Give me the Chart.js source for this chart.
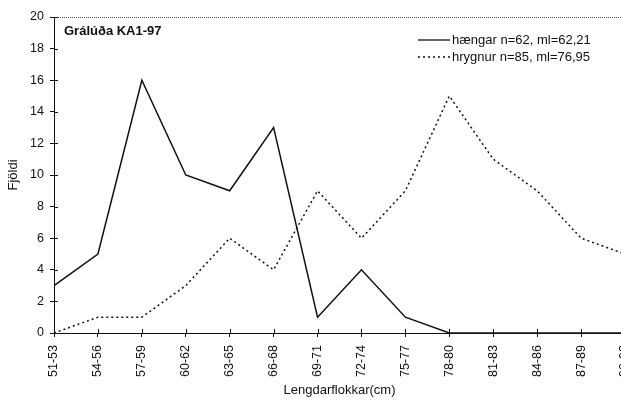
<!DOCTYPE html>
<html>
<head>
<meta charset="utf-8">
<script src="https://cdn.jsdelivr.net/npm/chart.js@4/dist/chart.umd.min.js"></script>
<style>
    html, body { margin: 0; padding: 0; background: #fff; overflow: hidden; }
    .wrap { position: relative; width: 648px; height: 402px; }
</style>
</head>
<body>
<div class="wrap"><canvas id="myChart"></canvas></div>
<script>
const labels = ['51-53', '54-56', '57-59', '60-62', '63-65', '66-68', '69-71',
    '72-74', '75-77', '78-80', '81-83', '84-86', '87-89', '90-92'];
const haengar = [3, 5, 16, 10, 9, 13, 1, 4, 1, 0, 0, 0, 0, 0];
const hrygnur = [0, 1, 1, 3, 6, 4, 9, 6, 9, 15, 11, 9, 6, 5];
const legendText = ['hængar n=62, ml=62,21', 'hrygnur n=85, ml=76,95'];
const chartTitle = 'Grálúða KA1-97';

const font = "'Liberation Sans', Arial, sans-serif";

// title, legend, top border and inner tick marks
const extras = {
    id: 'extras',
    afterDraw(chart) {
        const ctx = chart.ctx;
        const a = chart.chartArea;
        ctx.save();
        ctx.strokeStyle = '#555';
        ctx.lineWidth = 1;
        ctx.setLineDash([1, 1]);
        ctx.beginPath();
        ctx.moveTo(a.left, a.top + 0.5);
        ctx.lineTo(a.right, a.top + 0.5);
        ctx.stroke();
        ctx.setLineDash([]);

        ctx.strokeStyle = '#111';
        ctx.beginPath();
        chart.scales.y.ticks.forEach((t, i) => {
            const y = Math.round(chart.scales.y.getPixelForTick(i)) + 0.5;
            ctx.moveTo(a.left, y);
            ctx.lineTo(a.left + 4, y);
        });
        chart.scales.x.ticks.forEach((t, i) => {
            const x = Math.round(chart.scales.x.getPixelForTick(i)) + 0.5;
            ctx.moveTo(x, a.bottom);
            ctx.lineTo(x, a.bottom - 4);
        });
        ctx.stroke();

        ctx.fillStyle = '#111';
        ctx.font = 'bold 13px ' + font;
        ctx.textBaseline = 'middle';
        ctx.fillText(chartTitle, a.left + 10, a.top + 14);

        ctx.font = '13px ' + font;
        const x0 = 418, y0 = 40;
        ctx.lineWidth = 1.3;
        ctx.beginPath();
        ctx.moveTo(x0, y0);
        ctx.lineTo(x0 + 32, y0);
        ctx.stroke();
        ctx.setLineDash([2, 3]);
        ctx.beginPath();
        ctx.moveTo(x0, y0 + 17);
        ctx.lineTo(x0 + 32, y0 + 17);
        ctx.stroke();
        ctx.setLineDash([]);
        ctx.fillText(legendText[0], x0 + 34, y0);
        ctx.fillText(legendText[1], x0 + 34, y0 + 17);
        ctx.restore();
    }
};

const data = {
    labels: labels,
    datasets: [{
        label: legendText[0],
        data: haengar,
        borderColor: '#111',
        borderWidth: 1.5,
        pointRadius: 0,
        tension: 0,
    },
    {
        label: legendText[1],
        data: hrygnur,
        borderColor: '#111',
        borderWidth: 1.5,
        borderDash: [2, 3],
        pointRadius: 0,
        tension: 0,
    }]
};

const config = {
    type: 'line',
    data: data,
    options: {
        responsive: true,
        maintainAspectRatio: false,
        animation: false,
        layout: {
            padding: { top: 17, right: 0, left: 1, bottom: 0 }
        },
        scales: {
            x: {
                offset: false,
                afterFit: (scale) => { scale.height = 69; },
                grid: {
                    drawOnChartArea: false,
                    tickLength: 4,
                    color: '#111',
                },
                border: { color: '#111', width: 1 },
                ticks: {
                    color: '#111',
                    font: { family: font, size: 12.5 },
                    minRotation: 90,
                    maxRotation: 90,
                    autoSkip: false,
                    padding: 8,
                },
                title: {
                    display: true,
                    text: 'Lengdarflokkar(cm)',
                    color: '#111',
                    font: { family: font, size: 13 },
                    padding: { top: 3 }
                }
            },
            y: {
                min: 0,
                max: 20,
                afterFit: (scale) => { scale.width = 53; },
                grid: {
                    drawOnChartArea: false,
                    tickLength: 4,
                    color: '#111',
                },
                border: { color: '#111', width: 1 },
                ticks: {
                    stepSize: 2,
                    color: '#111',
                    font: { family: font, size: 12.5 },
                    padding: 6,
                },
                title: {
                    display: true,
                    text: 'Fjöldi',
                    color: '#111',
                    font: { family: font, size: 13 },
                    padding: { top: 5, bottom: 2 }
                }
            }
        },
        plugins: {
            legend: { display: false },
            tooltip: { enabled: false }
        }
    },
    plugins: [extras]
};

const myChart = new Chart(
    document.getElementById('myChart'),
    config
);
</script>
</body>
</html>
